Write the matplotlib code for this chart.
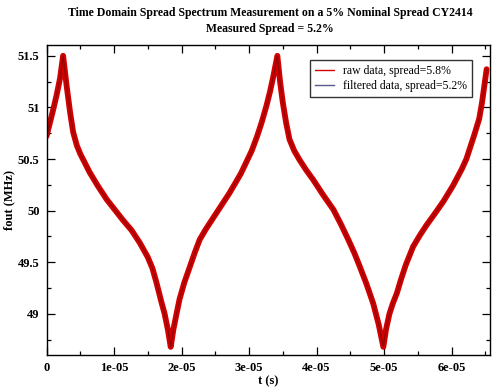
import matplotlib
matplotlib.use("Agg")
import matplotlib.pyplot as plt
from matplotlib.ticker import MultipleLocator, FuncFormatter

# curve (t in units of 1e-5 s, fout in MHz)
t_e5 = [0.00, 0.05, 0.10, 0.15, 0.20, 0.246,
        0.30, 0.35, 0.395, 0.45, 0.50, 0.57, 0.64, 0.76, 0.89, 1.01, 1.13, 1.26,
        1.38, 1.50, 1.57, 1.63, 1.70, 1.75, 1.80, 1.84,
        1.88, 1.92, 1.97, 2.04, 2.12, 2.20, 2.27, 2.36, 2.45, 2.53, 2.62, 2.71,
        2.80, 2.88, 2.96, 3.04, 3.12, 3.19, 3.26, 3.31, 3.36, 3.42,
        3.46, 3.50, 3.55, 3.60, 3.67, 3.75, 3.85, 3.95, 4.10, 4.25, 4.36, 4.47,
        4.56, 4.64, 4.74, 4.84, 4.92, 4.99,
        5.03, 5.08, 5.13, 5.19, 5.25, 5.32, 5.43, 5.53, 5.63, 5.73, 5.88, 6.02,
        6.15, 6.22, 6.27, 6.34, 6.41, 6.45, 6.48, 6.52]
fout = [50.72, 50.85, 50.98, 51.12, 51.28, 51.50,
        51.20, 50.95, 50.76, 50.63, 50.55, 50.46, 50.37, 50.24, 50.11, 50.01, 49.91, 49.81,
        49.69, 49.55, 49.44, 49.30, 49.12, 49.00, 48.84, 48.68,
        48.85, 48.98, 49.14, 49.30, 49.45, 49.60, 49.72, 49.82, 49.91, 49.99, 50.08, 50.17,
        50.27, 50.36, 50.47, 50.58, 50.72, 50.86, 51.02, 51.15, 51.30, 51.50,
        51.25, 51.05, 50.85, 50.69, 50.58, 50.49, 50.39, 50.30, 50.15, 50.01, 49.87, 49.72,
        49.59, 49.46, 49.29, 49.10, 48.90, 48.68,
        48.85, 49.00, 49.10, 49.20, 49.33, 49.47, 49.65, 49.76, 49.86, 49.95, 50.09, 50.24,
        50.40, 50.50, 50.60, 50.74, 50.89, 51.04, 51.18, 51.37]

t = [v * 1e-5 for v in t_e5]

plt.rcParams['font.family'] = ['Liberation Serif', 'DejaVu Serif']

fig = plt.figure(figsize=(5.0, 3.92), dpi=100)
ax = fig.add_axes([0.093, 0.094, 0.887, 0.790])

ax.plot(t, fout, color='#d40000', lw=4.2, solid_joinstyle='round',
        solid_capstyle='round', label='raw data, spread=5.8%')
ax.plot(t, fout, color='#7a0a0a', lw=1.0, alpha=0.75)
ax.plot([], [], color='#5a5a8c', lw=1.0, label='filtered data, spread=5.2%')

ax.set_xlim(0, 6.57e-5)
ax.set_ylim(48.6, 51.6)

ax.xaxis.set_major_locator(MultipleLocator(1e-5))
ax.xaxis.set_minor_locator(MultipleLocator(0.5e-5))
ax.yaxis.set_major_locator(MultipleLocator(0.5))
ax.yaxis.set_minor_locator(MultipleLocator(0.25))
ax.xaxis.set_major_formatter(FuncFormatter(lambda v, p: '0' if abs(v) < 1e-12 else '%.0e' % v))
ax.yaxis.set_major_formatter(FuncFormatter(lambda v, p: '%g' % v))

ax.tick_params(which='both', direction='in', top=True, right=True, width=0.9)
ax.tick_params(which='major', length=6, labelsize=9, pad=5)
ax.tick_params(which='minor', length=3)
for lab in ax.get_xticklabels() + ax.get_yticklabels():
    lab.set_fontweight('bold')
for s in ax.spines.values():
    s.set_linewidth(1.0)

ax.set_xlabel('t (s)', fontsize=9, fontweight='bold', labelpad=1)
ax.set_ylabel('fout (MHz)', fontsize=9, fontweight='bold', labelpad=2)

fig.text(0.54, 0.968, 'Time Domain Spread Spectrum Measurement on a 5% Nominal Spread CY2414',
         ha='center', va='center', fontsize=8.5, fontweight='bold')
fig.text(0.54, 0.925, 'Measured Spread = 5.2%', ha='center', va='center',
         fontsize=8.5, fontweight='bold')

leg = ax.legend(loc='upper right', fontsize=8.5, frameon=True, fancybox=False,
                edgecolor='black', handlelength=1.6, borderpad=0.4, borderaxespad=0,
                labelspacing=0.3, bbox_to_anchor=(0.959, 0.953))
leg.get_frame().set_linewidth(1.0)
for h in leg.get_lines():
    h.set_linewidth(1.0)

fig.savefig('out.png', dpi=100)
